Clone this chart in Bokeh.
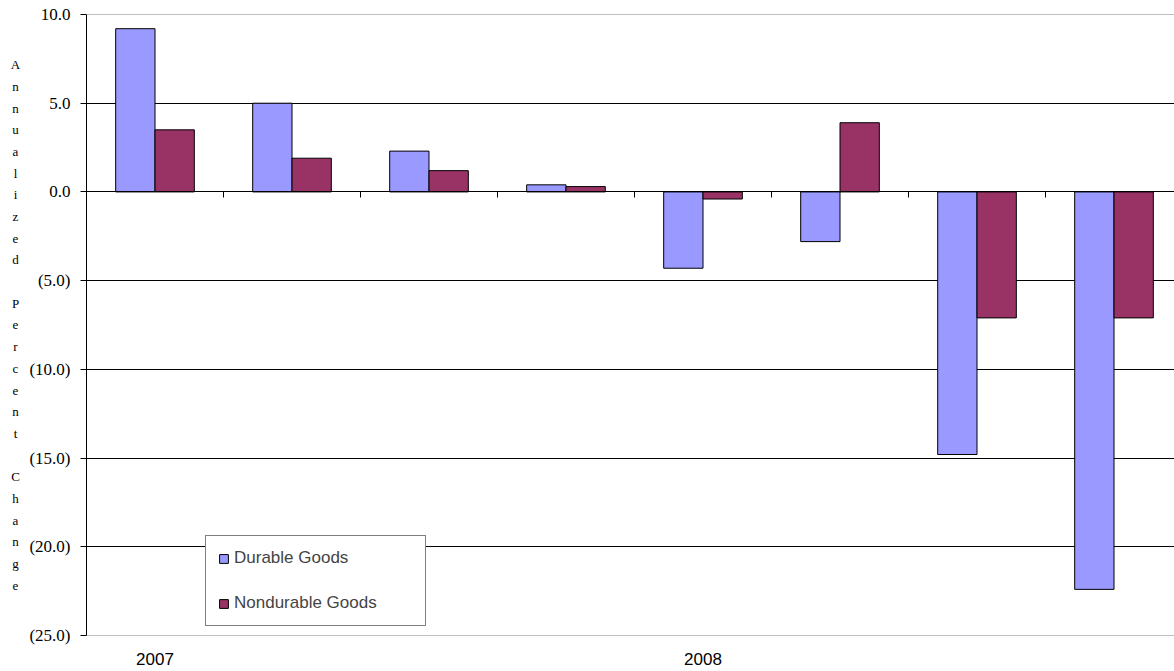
from bokeh.plotting import figure
from bokeh.layouts import row
from bokeh.models import Range1d, FixedTicker, LinearAxis, Legend, LegendItem, Label, Span
from bokeh.embed import file_html
from bokeh.resources import INLINE

# ---- data ----
quarters = ["2007 Q1", "2007 Q2", "2007 Q3", "2007 Q4",
            "2008 Q1", "2008 Q2", "2008 Q3", "2008 Q4"]
year_labels = ["2007", "", "", "", "2008", "", "", ""]
durable = [9.2, 5.0, 2.3, 0.4, -4.3, -2.8, -14.8, -22.4]
nondurable = [3.5, 1.9, 1.2, 0.3, -0.4, 3.9, -7.1, -7.1]
y_ticks = [10, 5, 0, -5, -10, -15, -20, -25]
y_tick_labels = ["10.0", "5.0", "0.0", "(5.0)", "(10.0)", "(15.0)", "(20.0)", "(25.0)"]
series_names = ["Durable Goods", "Nondurable Goods"]
axis_title = "Annualized Percent Change"

# ---- layout ----
W, H = 1174, 671
side_w = 24
left, top, bottom = 86, 14, 36
cat_px = 137.0
frame_w = W - left
n = len(quarters)
bar_w = 0.287
dodge = 0.1435

idx = list(range(n))
x_d = [i + 0.5 - dodge for i in idx]
x_n = [i + 0.5 + dodge for i in idx]

p = figure(width=W - side_w, height=H, output_backend="svg", toolbar_location=None,
           x_range=Range1d(0, frame_w / cat_px), y_range=Range1d(y_ticks[-1], y_ticks[0]),
           min_border_left=left - side_w, min_border_right=0, min_border_top=top,
           min_border_bottom=bottom)
p.outline_line_color = None
p.background_fill_color = "white"
p.border_fill_color = "white"

r1 = p.vbar(x=x_d, top=durable, bottom=0, width=bar_w,
            fill_color="#9999FF", line_color="black", line_width=1)
r2 = p.vbar(x=x_n, top=nondurable, bottom=0, width=bar_w,
            fill_color="#993366", line_color="black", line_width=1)

# grids
p.xgrid.visible = False
p.ygrid.ticker = FixedTicker(ticks=[t for t in y_ticks if y_ticks[-1] < t < y_ticks[0]])
p.ygrid.grid_line_color = "black"
p.ygrid.grid_line_width = 1
for loc in (y_ticks[0], y_ticks[-1]):
    p.add_layout(Span(location=loc, dimension="width", line_color="#808080", line_width=1))

# y axis
ya = p.yaxis[0]
ya.ticker = FixedTicker(ticks=y_ticks)
ya.major_label_overrides = {t: s for t, s in zip(y_ticks, y_tick_labels)}
ya.major_label_text_font = "Liberation Serif"
ya.major_label_text_font_size = "17px"
ya.major_label_text_color = "black"
ya.major_tick_out = 6
ya.major_tick_in = 0
ya.minor_tick_line_color = None
ya.axis_line_color = "black"
ya.major_tick_line_color = "black"
ya.major_label_standoff = 10

# bottom axis with year labels
xa = p.xaxis[0]
yr_pos = [i + 0.5 for i, s in enumerate(year_labels) if s]
xa.ticker = FixedTicker(ticks=yr_pos)
xa.major_label_overrides = {i + 0.5: s for i, s in enumerate(year_labels) if s}
xa.major_label_text_font = "Liberation Sans"
xa.major_label_text_font_size = "17px"
xa.major_label_text_color = "black"
xa.axis_line_color = None
xa.major_tick_line_color = None
xa.minor_tick_line_color = None
xa.major_tick_out = 0
xa.major_tick_in = 0
xa.major_label_standoff = 17

# category axis on the zero line with boundary ticks
za = LinearAxis(fixed_location=0, ticker=FixedTicker(ticks=list(range(1, n))),
                major_tick_out=6, major_tick_in=0, axis_line_color="black",
                major_tick_line_color="black", minor_tick_line_color=None,
                major_label_text_color=None, major_label_text_font_size="0px",
                major_label_standoff=0)
p.add_layout(za, "below")

# legend
legend = Legend(items=[LegendItem(label=series_names[0], renderers=[r1]),
                       LegendItem(label=series_names[1], renderers=[r2])],
                location=(119, 9), padding=12, glyph_width=11, glyph_height=11,
                label_standoff=5, spacing=25, label_height=20, label_width=179,
                label_text_font="Liberation Sans", label_text_font_size="17px",
                border_line_color="black", border_line_width=1,
                background_fill_color="white", background_fill_alpha=1, margin=0)
p.add_layout(legend)

# side strip holding the vertically stacked axis title (one letter per line)
side = figure(width=side_w, height=H, output_backend="svg", toolbar_location=None,
              x_axis_type=None, y_axis_type=None, min_border=0,
              x_range=Range1d(0, 1), y_range=Range1d(0, 1))
side.outline_line_color = None
side.grid.visible = False
side.background_fill_color = "white"
side.border_fill_color = "white"
letters = []
for w_i, word in enumerate(axis_title.split(" ")):
    if w_i > 0:
        letters.append("")
    letters.extend(list(word))
lab = Label(x=15, y=(H - bottom) - 324.5, x_units="screen", y_units="screen",
            text="\n".join(letters), text_font="Liberation Serif",
            text_font_size="13px", text_align="center", text_baseline="middle",
            text_line_height=1.446, text_color="black")
side.add_layout(lab)

layout = row(side, p, spacing=0)
open("out.html", "w").write(file_html(layout, INLINE))
